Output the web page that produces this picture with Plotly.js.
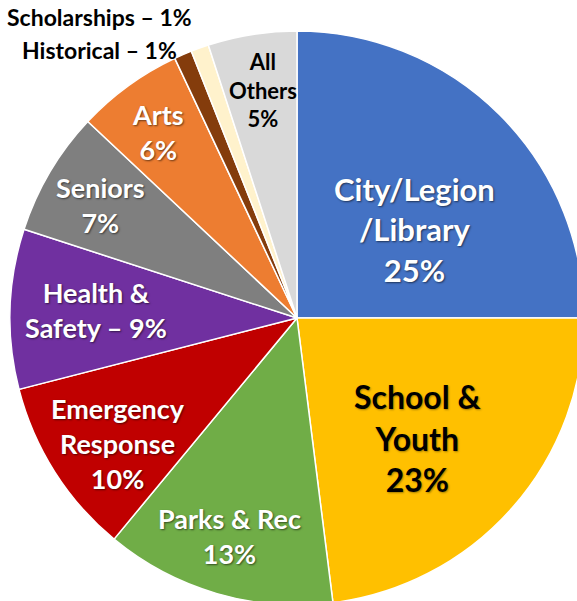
<!DOCTYPE html>
<html>
<head>
<meta charset="utf-8">
<script src="https://cdn.plot.ly/plotly-3.0.1.min.js"></script>
<style>
html,body{margin:0;padding:0;overflow:hidden;background:#fff;width:577px;height:601px;}
#chart{width:594px;height:640px;}
</style>
</head>
<body>
<div id="chart"></div>
<script>
// Data
var categories = ["City/Legion/Library","School & Youth","Parks & Rec","Emergency Response","Health & Safety","Seniors","Arts","Historical","Scholarships","All Others"];
var shares = [25, 23, 13, 10, 9, 7, 6, 1, 1, 5];
var displayNames = ["City/Legion<br>/Library","School &<br>Youth","Parks & Rec","Emergency<br>Response","Health &<br>Safety","Seniors","Arts","Historical","Scholarships","All<br>Others"];
var valueJoin = ["<br>","<br>","<br>","<br>"," – ","<br>","<br>"," – "," – ","<br>"];
var sliceColors = ["#4472C4","#FFC000","#70AD47","#C00000","#7030A0","#7F7F7F","#ED7D31","#843C0C","#FFF2CC","#D9D9D9"];

// Label layout (pixel positions, font sizes, colours)
var W = 594, H = 640;
var labelPos = [[414,229],[417,438],[229,536],[118,443],[96,310],[100,205],[158,132],[99,50],[99,17],[263,90]];
var labelSize = [31,32,27,27,27,27,27,23,23,22];
var labelColor = ["#fff","#000","#fff","#fff","#fff","#fff","#fff","#000","#000","#000"];
var labelShadow = ["1px 1px 2px rgba(0,0,0,0.55)","1px 1px 2px rgba(0,0,0,0.35)","1px 1px 2px rgba(0,0,0,0.55)","1px 1px 2px rgba(0,0,0,0.55)","1px 1px 2px rgba(0,0,0,0.55)","1px 1px 2px rgba(0,0,0,0.55)","1px 1px 2px rgba(0,0,0,0.55)","none","none","none"];

var annotations = categories.map(function(c, i){
  return {
    xref:"paper", yref:"paper",
    x: labelPos[i][0]/W, y: 1 - labelPos[i][1]/H,
    xanchor:"center", yanchor:"middle", align:"center",
    showarrow:false,
    text: displayNames[i] + valueJoin[i] + shares[i] + "%",
    font:{family:"Lato, 'Open Sans', sans-serif", size:labelSize[i], color:labelColor[i], weight:700, shadow:labelShadow[i]}
  };
});

var trace = {
  type:"pie",
  labels: categories,
  values: shares,
  sort:false,
  direction:"clockwise",
  rotation:0,
  textinfo:"none",
  hoverinfo:"label+percent",
  marker:{colors:sliceColors, line:{color:"#ffffff", width:1.5}},
  domain:{x:[0,1], y:[(H-605)/H, (H-31)/H]},
  showlegend:false
};

var layout = {
  width:W, height:H,
  margin:{l:0,r:0,t:0,b:0,pad:0},
  paper_bgcolor:"#fff",
  showlegend:false,
  annotations: annotations
};

Plotly.newPlot("chart",[trace],layout,{displayModeBar:false, staticPlot:true});
</script>
</body>
</html>
